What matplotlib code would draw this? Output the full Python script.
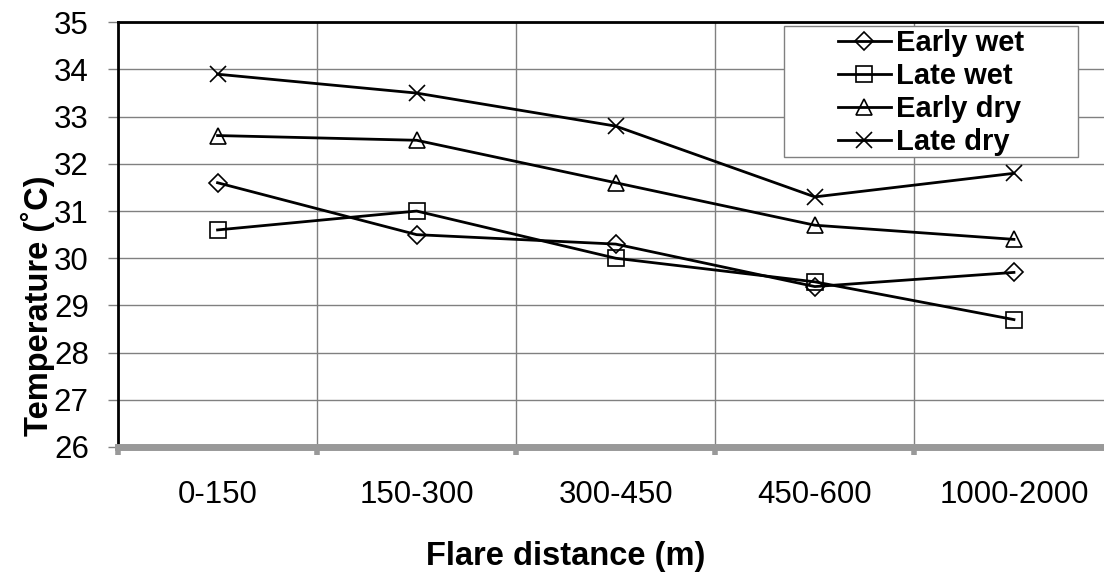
import matplotlib

matplotlib.use('Agg')
import matplotlib.pyplot as plt
from matplotlib.patches import Rectangle
from matplotlib.ticker import FixedLocator, NullFormatter, FixedFormatter

plt.rcParams['font.family'] = ['Liberation Sans', 'DejaVu Sans']

categories = ['0-150', '150-300', '300-450', '450-600', '1000-2000']
early_wet = [31.6, 30.5, 30.3, 29.4, 29.7]
late_wet = [30.6, 31.0, 30.0, 29.5, 28.7]
early_dry = [32.6, 32.5, 31.6, 30.7, 30.4]
late_dry = [33.9, 33.5, 32.8, 31.3, 31.8]
y_ticks = [26, 27, 28, 29, 30, 31, 32, 33, 34, 35]

fig = plt.figure(figsize=(11.04, 5.77), dpi=100)
W, H = 1104, 577
# 轴框: 左 118px, 右端超出画布 (最后一格被截断)
ax = fig.add_axes([118 / W, 1 - 447 / H, 995.5 / W, (447 - 22.3) / H])

x = list(range(len(categories)))
series = [
    ('Early wet', early_wet, 'D', 9),
    ('Late wet', late_wet, 's', 12),
    ('Early dry', early_dry, '^', 11),
    ('Late dry', late_dry, 'x', 12),
]
for name, vals, mk, ms in series:
    ax.plot(x, vals, color='black', lw=2.0, marker=mk, ms=ms,
            mfc='none', mec='black', mew=1.2, label=name, zorder=3)

ax.set_xlim(-0.5, len(categories) - 0.5)
ax.set_ylim(26, 35)

# 主刻度在分类边界 (网格线), 次刻度在中心 (标签)
ax.xaxis.set_major_locator(FixedLocator([i + 0.5 for i in range(-1, len(categories))]))
ax.xaxis.set_major_formatter(NullFormatter())
ax.xaxis.set_minor_locator(FixedLocator(x))
ax.xaxis.set_minor_formatter(FixedFormatter(categories))
ax.tick_params(axis='x', which='major', length=6, width=4, color='#999999', direction='out')
ax.tick_params(axis='x', which='minor', length=0, pad=24, labelsize=22.5)

ax.set_yticks(y_ticks)
ax.tick_params(axis='y', length=7, width=1, color='#808080', pad=14, labelsize=22.5)

ax.grid(True, which='major', color='#808080', lw=1.0)
ax.set_axisbelow(True)

ax.spines['left'].set_linewidth(2.0)
ax.spines['top'].set_linewidth(2.0)
ax.spines['right'].set_visible(False)
ax.spines['bottom'].set_linewidth(5)
ax.spines['bottom'].set_color('#999999')

# 图例: 无自带边框, 另画一个更宽的框
ax.add_patch(Rectangle((784 / W, 1 - 157 / H), (1078 - 784) / W, (157 - 26) / H,
                       transform=fig.transFigure, facecolor='white', edgecolor='#808080',
                       lw=1.0, zorder=4, clip_on=False))
leg = ax.legend(loc='upper left', bbox_to_anchor=(838 / W, 1 - 29 / H),
                bbox_transform=fig.transFigure, borderaxespad=0, borderpad=0,
                prop={'weight': 'bold', 'size': 21}, handlelength=1.8, handletextpad=0.2,
                labelspacing=0.17, frameon=False)
leg.set_zorder(5)

fig.text(566 / W, 1 - 556 / H, 'Flare distance (m)', ha='center', va='center',
         fontsize=23.5, fontweight='bold')
fig.text(38 / W, 1 - 306 / H, 'Temperature (˚C)', ha='center', va='center',
         rotation=90, fontsize=23.5, fontweight='bold')

fig.savefig('out.png', dpi=100)
